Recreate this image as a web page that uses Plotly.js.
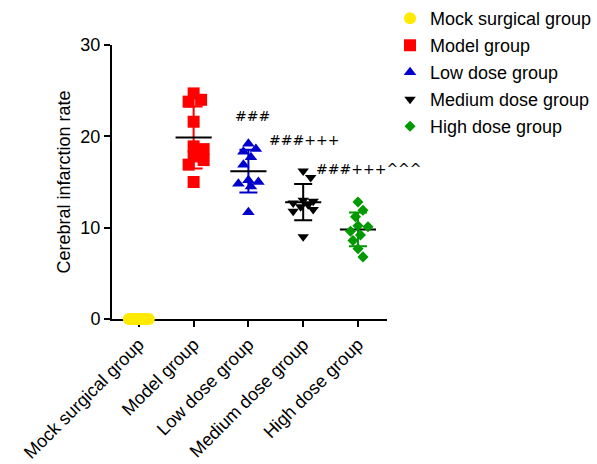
<!DOCTYPE html>
<html>
<head>
<meta charset="utf-8">
<script src="https://cdn.plot.ly/plotly-3.0.1.min.js"></script>
<style>html,body{margin:0;padding:0;background:#fff;}#chart{width:597px;height:464px;}</style>
</head>
<body>
<div id="chart"></div>
<script>
// ---- data ----
var groups = ["Mock surgical group", "Model group", "Low dose group", "Medium dose group", "High dose group"];
var mockValues   = [0, 0, 0, 0, 0, 0, 0, 0, 0, 0];
var modelValues  = [24.7, 24.0, 23.8, 21.6, 18.9, 18.6, 17.8, 17.4, 16.9, 15.0];
var lowValues    = [19.2, 18.6, 18.3, 17.7, 16.9, 15.2, 15.0, 14.8, 14.5, 11.7];
var mediumValues = [16.2, 15.5, 13.0, 12.9, 12.7, 12.5, 12.3, 12.0, 11.8, 9.0];
var highValues   = [12.8, 11.9, 11.2, 10.2, 10.1, 9.6, 9.2, 8.6, 7.7, 6.8];
var significance = ["", "", "###", "###+++", "###+++^^^"];
var yTicks = [0, 10, 20, 30];

// ---- styles ----
var colors  = ["#ffea00", "#ff0000", "#0000cc", "#000000", "#009900"];
var symbols = ["circle", "square", "triangle-up", "triangle-down", "diamond"];
var sizes   = [12, 12, 11, 10, 8.5];
var allValues = [mockValues, modelValues, lowValues, mediumValues, highValues];

var M = {l: 112, r: 210, t: 45, b: 145, autoexpand: false};
var W = 597, H = 464;
var xRange = [-0.49, 4.53], yRange = [0, 30];
var pxPerX = (W - M.l - M.r) / (xRange[1] - xRange[0]);
var pxPerY = (H - M.t - M.b) / (yRange[1] - yRange[0]);

function mean(a){ return a.reduce(function(s,v){return s+v;},0)/a.length; }
function sd(a){ var m = mean(a); return Math.sqrt(a.reduce(function(s,v){return s+(v-m)*(v-m);},0)/(a.length-1)); }

// simple deterministic beeswarm (offsets in px)
function swarm(vals){
  var cands = [0, 2.5, -2.5, 5, -5, 7.5, -7.5, 10, -10];
  var minD = 9, placed = [], out = [];
  vals.forEach(function(v){
    var ypx = v * pxPerY, best = null, bestD = -1;
    for (var k = 0; k < cands.length; k++){
      var c = cands[k], md = Infinity;
      placed.forEach(function(p){ var d = Math.hypot(p[0]-c, p[1]-ypx); if (d < md) md = d; });
      if (md >= minD){ best = c; bestD = md; break; }
      if (md > bestD + 1e-9){ bestD = md; best = c; }
    }
    placed.push([best, ypx]);
    out.push(best / pxPerX);
  });
  return out;
}

var traces = [];
// mean lines and SD bars first (under the points)
groups.forEach(function(g, i){
  var vals = allValues[i], m = mean(vals), s = sd(vals);
  if (i > 0) {
    traces.push({
      type: "scatter", mode: "markers", x: [i], y: [m], showlegend: false, hoverinfo: "skip",
      marker: {size: 1, color: "rgba(0,0,0,0)"}, cliponaxis: false,
      error_y: {type: "data", array: [s], visible: true, width: 9, thickness: 2, color: colors[i]}
    });
    traces.push({
      type: "scatter", mode: "lines", x: [i - 0.33, i + 0.33], y: [m, m], showlegend: false, hoverinfo: "skip",
      line: {color: "#000", width: 2}, cliponaxis: false
    });
  }
});
// points
groups.forEach(function(g, i){
  var vals = allValues[i];
  var offs = swarm(vals);
  traces.push({
    type: "scatter", mode: "markers", name: g, legendgroup: g,
    x: vals.map(function(v, k){ return i + offs[k]; }), y: vals,
    cliponaxis: false,
    marker: {symbol: symbols[i], size: sizes[i], color: colors[i], line: {width: 0}}
  });
});

var annFont = {family: "DejaVu Sans", size: 14, color: "#000"};
var annPos = [null, null, [2.08, 22.2], [3.02, 19.6], [4.2, 16.4]];
var annotations = [];
significance.forEach(function(t, i){
  if (t) annotations.push({x: annPos[i][0], y: annPos[i][1], xref: "x", yref: "y", text: t,
    showarrow: false, font: annFont, xanchor: "center", yanchor: "middle"});
});

var layout = {
  width: W, height: H, margin: M,
  paper_bgcolor: "#fff", plot_bgcolor: "#fff",
  font: {family: "Arial, 'Liberation Sans', sans-serif", size: 18, color: "#000"},
  showlegend: true,
  legend: {x: 1.011, y: 1.164, xanchor: "left", yanchor: "top", tracegroupgap: 0.6,
           font: {size: 18, color: "#000"}, bgcolor: "rgba(0,0,0,0)"},
  xaxis: {
    range: xRange, tickmode: "array", tickvals: [0, 1, 2, 3, 4], ticktext: groups,
    tickangle: -45, ticks: "outside", ticklen: 6, tickwidth: 2, tickcolor: "#000",
    showline: true, linecolor: "#000", linewidth: 2, showgrid: false, zeroline: false,
    layer: "below traces", tickfont: {size: 18}, automargin: false
  },
  yaxis: {
    range: yRange, tickmode: "array", tickvals: yTicks,
    ticks: "outside", ticklen: 6, tickwidth: 2, tickcolor: "#000",
    showline: true, linecolor: "#000", linewidth: 2, showgrid: false, zeroline: false,
    title: {text: "Cerebral infarction rate", font: {size: 18}, standoff: 5},
    tickfont: {size: 18}, automargin: false
  },
  annotations: annotations
};

Plotly.newPlot("chart", traces, layout, {staticPlot: true, displayModeBar: false});
</script>
</body>
</html>
